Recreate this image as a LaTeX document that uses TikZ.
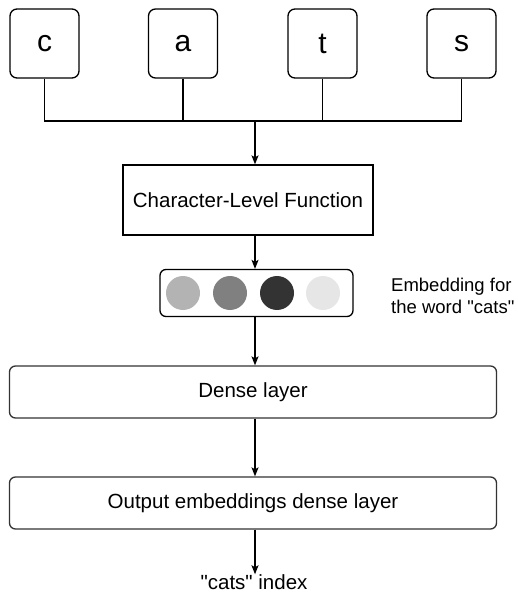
\documentclass[tikz,border=0pt]{standalone}
\usepackage{fontspec}
\setmainfont{Liberation Sans}[Ligatures=TeXOff]
\usetikzlibrary{arrows.meta}
\definecolor{cA}{HTML}{B3B3B3}
\definecolor{cB}{HTML}{808080}
\definecolor{cC}{HTML}{333333}
\definecolor{cD}{HTML}{E6E6E6}
\tikzset{
  edge/.style={draw=black, line width=1.3pt},
  arr/.style={edge, -{Stealth[length=9pt,width=7pt,inset=2pt]}},
  letterbox/.style={draw=black, line width=1.3pt, rounded corners=7pt, minimum width=69pt, minimum height=69pt, inner sep=0pt, font=\fontsize{30}{34}\selectfont},
  widebox/.style={draw=black!80, line width=1.3pt, rounded corners=6pt, minimum width=487pt, minimum height=52pt, inner sep=0pt, font=\fontsize{20.5}{24}\selectfont},
  dot/.style={circle, minimum size=34pt, inner sep=0pt, draw=none},
  txt/.style={inner sep=0pt, font=\fontsize{20.5}{24}\selectfont},
}
\begin{document}
\begin{tikzpicture}[x=1pt,y=-1pt]
\useasboundingbox (0,0) rectangle (518,593);
\node[letterbox] (c) at (44.5,43.5) {c};
\node[letterbox] (a) at (183,43.5) {a};
\node[letterbox] (t) at (322.5,43.5) {t};
\node[letterbox] (s) at (461.5,43.5) {s};
\coordinate (j) at (255,121);
\draw[edge] (c.south) |- (j);
\draw[edge] (s.south) |- (j);
\draw[edge] (a.south) -- (a.south |- j);
\draw[edge] (t.south) -- (t.south |- j);
\node[draw=black, line width=1.3pt, minimum width=250pt, minimum height=70pt, inner sep=0pt, font=\fontsize{20.5}{24}\selectfont] (clf) at (248,200) {Character-Level Function};
\draw[arr] (j) -- (j |- clf.north);
\node[draw=black, line width=1.3pt, rounded corners=6pt, minimum width=193pt, minimum height=47pt, inner sep=0pt] (emb) at (256.5,293) {};
\draw[arr] (clf.south -| j) -- (j |- emb.north);
\node[dot, fill=cA] (d1) at (183,293) {};
\node[dot, fill=cB] (d2) at (230,293) {};
\node[dot, fill=cC] (d3) at (277,293) {};
\node[dot, fill=cD] (d4) at (323,293) {};
\node[inner sep=0pt, anchor=west, align=left, font=\fontsize{18.5}{22}\selectfont] (lbl) at (391,296) {Embedding for\\the word "cats"};
\node[widebox] (dense) at (253,392) {Dense layer};
\draw[arr] (emb.south -| j) -- (j |- dense.north);
\node[widebox] (out) at (253,503) {Output embeddings dense layer};
\draw[arr] (dense.south -| j) -- (j |- out.north);
\node[txt] (idx) at (254,582) {"cats" index};
\draw[arr] (out.south -| j) -- (j |- idx.north);
\end{tikzpicture}
\end{document}
